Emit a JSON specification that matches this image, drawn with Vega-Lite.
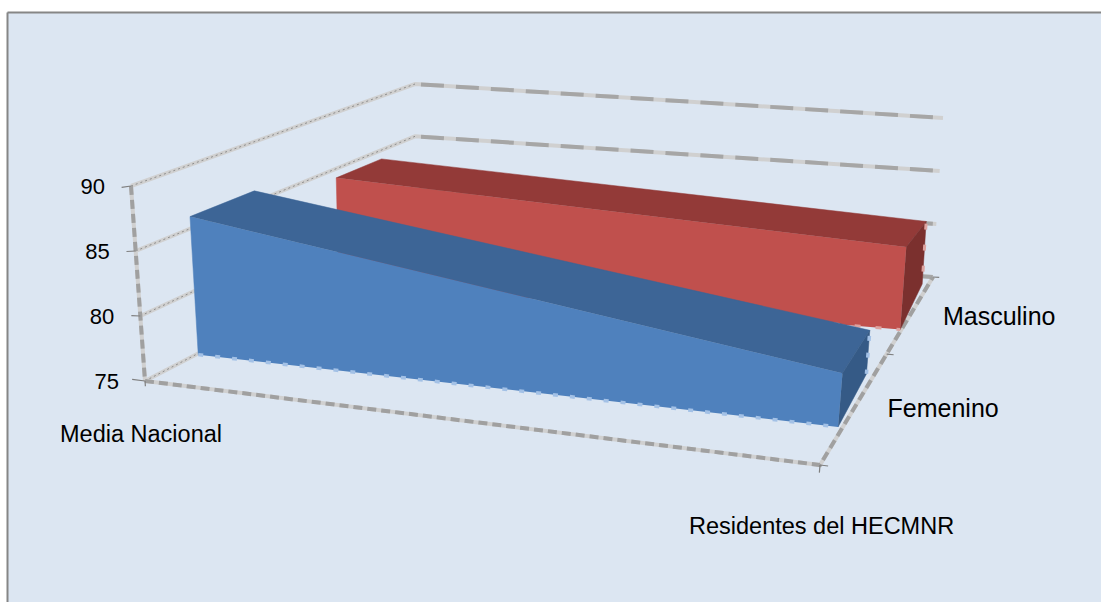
{
  "$schema": "https://vega.github.io/schema/vega-lite/v6.json",
  "width": 1094,
  "height": 590,
  "padding": {"left": 7, "top": 12, "right": 0, "bottom": 0},
  "autosize": {"type": "none"},
  "background": "#ffffff",
  "config": {"view": {"fill": "#DCE6F2", "stroke": null}},
  "data": {"values": [
    {"capa": "rejilla", "linea": "g90", "tipo": "fondo", "n": 1, "pos": 0, "prof": 0, "valor": 90},
    {"capa": "rejilla", "linea": "g90", "tipo": "fondo", "n": 2, "pos": 0, "prof": 1, "valor": 90},
    {"capa": "rejilla", "linea": "g90", "tipo": "fondo", "n": 3, "pos": 1, "prof": 1, "valor": 90},
    {"capa": "rejilla", "linea": "g85", "tipo": "fondo", "n": 1, "pos": 0, "prof": 0, "valor": 85},
    {"capa": "rejilla", "linea": "g85", "tipo": "fondo", "n": 2, "pos": 0, "prof": 1, "valor": 85},
    {"capa": "rejilla", "linea": "g85", "tipo": "fondo", "n": 3, "pos": 1, "prof": 1, "valor": 85},
    {"capa": "rejilla", "linea": "g80", "tipo": "fondo", "n": 1, "pos": 0, "prof": 0, "valor": 80},
    {"capa": "rejilla", "linea": "g80", "tipo": "fondo", "n": 2, "pos": 0, "prof": 1, "valor": 80},
    {"capa": "rejilla", "linea": "g80", "tipo": "fondo", "n": 3, "pos": 1, "prof": 1, "valor": 80},
    {"capa": "rejilla", "linea": "g75", "tipo": "fondo", "n": 1, "pos": 0, "prof": 0, "valor": 75},
    {"capa": "rejilla", "linea": "g75", "tipo": "fondo", "n": 2, "pos": 0, "prof": 1, "valor": 75},
    {"capa": "rejilla", "linea": "g75", "tipo": "fondo", "n": 3, "pos": 1, "prof": 1, "valor": 75},
    {"capa": "rejilla", "linea": "ejeY", "tipo": "eje", "n": 1, "pos": 0, "prof": 0, "valor": 90},
    {"capa": "rejilla", "linea": "ejeY", "tipo": "eje", "n": 2, "pos": 0, "prof": 0, "valor": 75},
    {"capa": "rejilla", "linea": "suelo", "tipo": "eje", "n": 1, "pos": 0, "prof": 0, "valor": 75},
    {"capa": "rejilla", "linea": "suelo", "tipo": "eje", "n": 2, "pos": 1, "prof": 0, "valor": 75},
    {"capa": "rejilla", "linea": "suelo", "tipo": "eje", "n": 3, "pos": 1, "prof": 1, "valor": 75},

    {"capa": "marca", "linea": "t90", "n": 1, "pos": -0.013, "prof": 0, "valor": 90},
    {"capa": "marca", "linea": "t90", "n": 2, "pos": 0, "prof": 0, "valor": 90},
    {"capa": "marca", "linea": "t85", "n": 1, "pos": -0.013, "prof": 0, "valor": 85},
    {"capa": "marca", "linea": "t85", "n": 2, "pos": 0, "prof": 0, "valor": 85},
    {"capa": "marca", "linea": "t80", "n": 1, "pos": -0.013, "prof": 0, "valor": 80},
    {"capa": "marca", "linea": "t80", "n": 2, "pos": 0, "prof": 0, "valor": 80},
    {"capa": "marca", "linea": "t75", "n": 1, "pos": -0.019, "prof": 0, "valor": 75},
    {"capa": "marca", "linea": "t75", "n": 2, "pos": 0, "prof": 0, "valor": 75},
    {"capa": "marca", "linea": "cat0", "n": 1, "pos": 0, "prof": 0, "valor": 75},
    {"capa": "marca", "linea": "cat0", "n": 2, "pos": 0, "prof": 0, "valor": 74.6},
    {"capa": "marca", "linea": "cat1", "n": 1, "pos": 1, "prof": 0, "valor": 75},
    {"capa": "marca", "linea": "cat1", "n": 2, "pos": 1, "prof": 0, "valor": 74.7},
    {"capa": "marca", "linea": "ser0", "n": 1, "pos": 1, "prof": 0, "valor": 75},
    {"capa": "marca", "linea": "ser0", "n": 2, "pos": 1.012, "prof": 0, "valor": 75},
    {"capa": "marca", "linea": "ser1", "n": 1, "pos": 1, "prof": 0.59, "valor": 75},
    {"capa": "marca", "linea": "ser1", "n": 2, "pos": 1.012, "prof": 0.59, "valor": 75},
    {"capa": "marca", "linea": "ser2", "n": 1, "pos": 1, "prof": 1, "valor": 75},
    {"capa": "marca", "linea": "ser2", "n": 2, "pos": 1.012, "prof": 1, "valor": 75},

    {"capa": "cara", "cara": "Masculino frente", "n": 1, "pos": 0.005, "prof": 0.707, "valor": 75},
    {"capa": "cara", "cara": "Masculino frente", "n": 2, "pos": 0.005, "prof": 0.707, "valor": 84.3},
    {"capa": "cara", "cara": "Masculino frente", "n": 3, "pos": 0.998, "prof": 0.72, "valor": 80.6},
    {"capa": "cara", "cara": "Masculino frente", "n": 4, "pos": 0.998, "prof": 0.72, "valor": 75},
    {"capa": "cara", "cara": "Masculino techo", "n": 1, "pos": 0.005, "prof": 0.707, "valor": 84.3},
    {"capa": "cara", "cara": "Masculino techo", "n": 2, "pos": 0.005, "prof": 0.87, "valor": 84.3},
    {"capa": "cara", "cara": "Masculino techo", "n": 3, "pos": 0.988, "prof": 0.96, "valor": 80.6},
    {"capa": "cara", "cara": "Masculino techo", "n": 4, "pos": 0.998, "prof": 0.72, "valor": 80.6},
    {"capa": "cara", "cara": "Masculino lado", "n": 1, "pos": 0.998, "prof": 0.72, "valor": 80.6},
    {"capa": "cara", "cara": "Masculino lado", "n": 2, "pos": 0.988, "prof": 0.96, "valor": 80.6},
    {"capa": "cara", "cara": "Masculino lado", "n": 3, "pos": 0.988, "prof": 0.96, "valor": 75},
    {"capa": "cara", "cara": "Masculino lado", "n": 4, "pos": 0.998, "prof": 0.72, "valor": 75},
    {"capa": "borde", "linea": "rojoSuelo", "n": 1, "pos": 0.88, "prof": 0.718, "valor": 75},
    {"capa": "borde", "linea": "rojoSuelo", "n": 2, "pos": 0.998, "prof": 0.72, "valor": 75},
    {"capa": "borde", "linea": "rojoLado", "n": 1, "pos": 0.988, "prof": 0.96, "valor": 80.4},
    {"capa": "borde", "linea": "rojoLado", "n": 2, "pos": 0.988, "prof": 0.96, "valor": 75},
    {"capa": "cara", "cara": "Femenino frente", "n": 1, "pos": 0.003, "prof": 0.19, "valor": 75},
    {"capa": "cara", "cara": "Femenino frente", "n": 2, "pos": 0.003, "prof": 0.19, "valor": 86},
    {"capa": "cara", "cara": "Femenino frente", "n": 3, "pos": 0.993, "prof": 0.2, "valor": 77.4},
    {"capa": "cara", "cara": "Femenino frente", "n": 4, "pos": 0.993, "prof": 0.2, "valor": 75},
    {"capa": "cara", "cara": "Femenino techo", "n": 1, "pos": 0.003, "prof": 0.19, "valor": 86},
    {"capa": "cara", "cara": "Femenino techo", "n": 2, "pos": 0.003, "prof": 0.42, "valor": 86},
    {"capa": "cara", "cara": "Femenino techo", "n": 3, "pos": 0.987, "prof": 0.48, "valor": 77.4},
    {"capa": "cara", "cara": "Femenino techo", "n": 4, "pos": 0.993, "prof": 0.2, "valor": 77.4},
    {"capa": "cara", "cara": "Femenino lado", "n": 1, "pos": 0.993, "prof": 0.2, "valor": 77.4},
    {"capa": "cara", "cara": "Femenino lado", "n": 2, "pos": 0.987, "prof": 0.48, "valor": 77.4},
    {"capa": "cara", "cara": "Femenino lado", "n": 3, "pos": 0.987, "prof": 0.48, "valor": 75},
    {"capa": "cara", "cara": "Femenino lado", "n": 4, "pos": 0.993, "prof": 0.2, "valor": 75},

    {"capa": "borde", "linea": "azulSuelo", "n": 1, "pos": 0.003, "prof": 0.19, "valor": 75},
    {"capa": "borde", "linea": "azulSuelo", "n": 2, "pos": 0.993, "prof": 0.2, "valor": 75},
    {"capa": "borde", "linea": "azulLado", "n": 1, "pos": 0.987, "prof": 0.48, "valor": 77.1},
    {"capa": "borde", "linea": "azulLado", "n": 2, "pos": 0.987, "prof": 0.48, "valor": 75},

    {"capa": "valor", "texto": "90", "pos": 0, "prof": 0, "valor": 90},
    {"capa": "valor", "texto": "85", "pos": 0, "prof": 0, "valor": 85},
    {"capa": "valor", "texto": "80", "pos": 0, "prof": 0, "valor": 80},
    {"capa": "valor", "texto": "75", "pos": 0, "prof": 0, "valor": 75},
    {"capa": "categoria", "texto": "Media Nacional", "pos": 0, "prof": 0, "valor": 75},
    {"capa": "categoria", "texto": "Residentes del HECMNR", "pos": 1.014, "prof": -0.035, "valor": 75},
    {"capa": "serie", "texto": "Femenino", "pos": 1, "prof": 0.35, "valor": 75},
    {"capa": "serie", "texto": "Masculino", "pos": 1, "prof": 0.84, "valor": 75}
  ]},
  "transform": [
    {"calculate": "(datum.valor - 75) / 15", "as": "h"},
    {"calculate": "(1-datum.pos)*(1-datum.prof)*((1-datum.h)*145+datum.h*131) + (1-datum.pos)*datum.prof*415 + datum.pos*(1-datum.prof)*((1-datum.h)*820+datum.h*852) + datum.pos*datum.prof*((1-datum.h)*933+datum.h*943)", "as": "px"},
    {"calculate": "(1-datum.pos)*(1-datum.prof)*((1-datum.h)*381+datum.h*186) + (1-datum.pos)*datum.prof*((1-datum.h)*241+datum.h*84) + datum.pos*(1-datum.prof)*((1-datum.h)*465+datum.h*85) + datum.pos*datum.prof*((1-datum.h)*277+datum.h*118)", "as": "py"}
  ],
  "encoding": {
    "x": {"field": "px", "type": "quantitative", "scale": {"domain": [7, 1101], "nice": false, "zero": false},
      "axis": {"orient": "top", "title": null, "labels": false, "ticks": false, "grid": false, "domainColor": "#868686", "domainWidth": 2}},
    "y": {"field": "py", "type": "quantitative", "scale": {"domain": [602, 12], "nice": false, "zero": false},
      "axis": {"orient": "left", "title": null, "labels": false, "ticks": false, "grid": false, "domainColor": "#868686", "domainWidth": 2}}
  },
  "layer": [
    {
      "transform": [{"filter": "datum.capa === 'rejilla'"}],
      "mark": {"type": "line", "stroke": "#D0D0D0", "strokeWidth": 4},
      "encoding": {"detail": {"field": "linea"}, "order": {"field": "n", "type": "quantitative"}}
    },
    {
      "transform": [{"filter": "datum.capa === 'rejilla' && datum.tipo === 'fondo' && datum.n >= 2"}],
      "mark": {"type": "line", "stroke": "#A6A6A6", "strokeWidth": 4, "strokeDash": [23, 12], "strokeDashOffset": -6},
      "encoding": {"detail": {"field": "linea"}, "order": {"field": "n", "type": "quantitative"}}
    },
    {
      "transform": [{"filter": "datum.capa === 'rejilla' && datum.tipo === 'fondo' && datum.n <= 2"}],
      "mark": {"type": "line", "stroke": "#8C8C8C", "strokeWidth": 1, "strokeDash": [2, 3]},
      "encoding": {"detail": {"field": "linea"}, "order": {"field": "n", "type": "quantitative"}}
    },
    {
      "transform": [{"filter": "datum.capa === 'rejilla' && datum.tipo === 'eje'"}],
      "mark": {"type": "line", "stroke": "#A0A0A0", "strokeWidth": 4, "strokeDash": [9, 5]},
      "encoding": {"detail": {"field": "linea"}, "order": {"field": "n", "type": "quantitative"}}
    },
    {
      "transform": [{"filter": "datum.capa === 'marca'"}],
      "mark": {"type": "line", "stroke": "#7F7F7F", "strokeWidth": 1.2},
      "encoding": {"detail": {"field": "linea"}, "order": {"field": "n", "type": "quantitative"}}
    },
    {
      "transform": [{"filter": "datum.capa === 'cara' && indexof(datum.cara, 'Masculino') === 0"}],
      "mark": {"type": "line", "strokeWidth": 0.5},
      "encoding": {
        "detail": {"field": "cara"},
        "order": {"field": "n", "type": "quantitative"},
        "stroke": {"field": "cara", "type": "nominal", "legend": null,
          "scale": {"domain": ["Masculino frente", "Masculino techo", "Masculino lado", "Femenino frente", "Femenino techo", "Femenino lado"],
                    "range": ["#C0504D", "#933A38", "#7B302E", "#4F81BD", "#3D6596", "#355A86"]}},
        "fill": {"field": "cara", "type": "nominal", "legend": null,
          "scale": {"domain": ["Masculino frente", "Masculino techo", "Masculino lado", "Femenino frente", "Femenino techo", "Femenino lado"],
                    "range": ["#C0504D", "#933A38", "#7B302E", "#4F81BD", "#3D6596", "#355A86"]}}
      }
    },
    {
      "transform": [{"filter": "datum.capa === 'borde' && indexof(datum.linea, 'rojo') === 0"}],
      "mark": {"type": "line", "stroke": "#DDA3A0", "strokeWidth": 3, "strokeDash": [6, 15]},
      "encoding": {"detail": {"field": "linea"}, "order": {"field": "n", "type": "quantitative"}}
    },
    {
      "transform": [{"filter": "datum.capa === 'cara' && indexof(datum.cara, 'Femenino') === 0"}],
      "mark": {"type": "line", "strokeWidth": 0.5},
      "encoding": {
        "detail": {"field": "cara"},
        "order": {"field": "n", "type": "quantitative"},
        "stroke": {"field": "cara", "type": "nominal", "legend": null,
          "scale": {"domain": ["Masculino frente", "Masculino techo", "Masculino lado", "Femenino frente", "Femenino techo", "Femenino lado"],
                    "range": ["#C0504D", "#933A38", "#7B302E", "#4F81BD", "#3D6596", "#355A86"]}},
        "fill": {"field": "cara", "type": "nominal", "legend": null,
          "scale": {"domain": ["Masculino frente", "Masculino techo", "Masculino lado", "Femenino frente", "Femenino techo", "Femenino lado"],
                    "range": ["#C0504D", "#933A38", "#7B302E", "#4F81BD", "#3D6596", "#355A86"]}}
      }
    },
    {
      "transform": [{"filter": "datum.capa === 'borde' && indexof(datum.linea, 'azul') === 0"}],
      "mark": {"type": "line", "stroke": "#A3C1E6", "strokeWidth": 3.5, "strokeDash": [5, 12]},
      "encoding": {"detail": {"field": "linea"}, "order": {"field": "n", "type": "quantitative"}}
    },
    {
      "transform": [{"filter": "datum.capa === 'valor'"}],
      "mark": {"type": "text", "align": "right", "baseline": "middle", "dx": -26, "dy": 1, "font": "Liberation Sans", "fontSize": 22, "fill": "#000000"},
      "encoding": {"text": {"field": "texto"}}
    },
    {
      "transform": [{"filter": "datum.capa === 'categoria'"}],
      "mark": {"type": "text", "align": "center", "baseline": "middle", "dy": 54, "dx": -4, "font": "Liberation Sans", "fontSize": 23.5, "fill": "#000000"},
      "encoding": {"text": {"field": "texto"}}
    },
    {
      "transform": [{"filter": "datum.capa === 'serie'"}],
      "mark": {"type": "text", "align": "left", "baseline": "middle", "dx": 28, "dy": 10, "font": "Liberation Sans", "fontSize": 25, "fill": "#000000"},
      "encoding": {"text": {"field": "texto"}}
    }
  ]
}
